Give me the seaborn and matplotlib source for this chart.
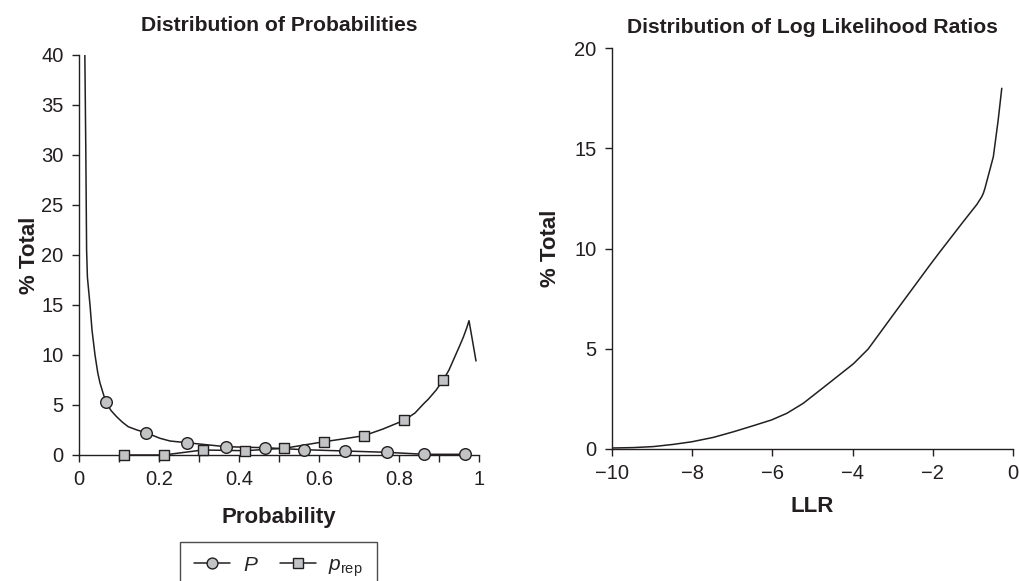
import matplotlib
matplotlib.use("Agg")
import matplotlib.pyplot as plt
from matplotlib.lines import Line2D
from matplotlib.ticker import MultipleLocator
import seaborn as sns

# ---------------- data ----------------
# Left panel: P curve (smooth line) and P markers
p_curve_x = [0.0145, 0.017, 0.019, 0.021, 0.0275, 0.0325, 0.04, 0.047, 0.0525, 0.067,
             0.08, 0.094, 0.108, 0.123, 0.145, 0.1675, 0.2025, 0.2275, 0.269,
             0.3675, 0.465, 0.5625, 0.665, 0.769, 0.863, 0.965]
p_curve_y = [40.5, 30.5, 20.5, 17.8, 15.0, 12.5, 10.0, 8.2, 7.2, 5.3,
             4.45, 3.83, 3.3, 2.83, 2.5, 2.23, 1.67, 1.4, 1.23,
             0.83, 0.73, 0.53, 0.40, 0.27, 0.07, 0.07]
p_mark_x = [0.067, 0.1675, 0.269, 0.3675, 0.465, 0.5625, 0.665, 0.769, 0.863, 0.965]
p_mark_y = [5.3, 2.23, 1.23, 0.83, 0.73, 0.53, 0.40, 0.27, 0.07, 0.07]

# Left panel: p_rep curve and markers
prep_curve_x = [0.113, 0.212, 0.309, 0.415, 0.513, 0.613, 0.659, 0.7125, 0.76, 0.813,
                0.84, 0.861, 0.873, 0.893, 0.911, 0.925, 0.936, 0.9525, 0.961, 0.969,
                0.975, 0.982, 0.9925]
prep_curve_y = [0.0, 0.0, 0.5, 0.43, 0.67, 1.33, 1.6, 1.93, 2.6, 3.47,
                4.2, 5.1, 5.57, 6.5, 7.53, 8.5, 9.5, 11.0, 11.8, 12.67,
                13.43, 11.83, 9.4]
prep_mark_x = [0.113, 0.212, 0.309, 0.415, 0.513, 0.613, 0.7125, 0.813, 0.911]
prep_mark_y = [0.0, 0.0, 0.5, 0.43, 0.67, 1.33, 1.93, 3.47, 7.53]

# Right panel: LLR distribution
llr_x = [-10.0, -9.47, -8.97, -8.47, -8.01, -7.47, -6.97, -6.48, -6.02, -5.64,
         -5.23, -4.65, -3.98, -3.61, -2.9, -2.07, -1.82, -1.24, -0.9, -0.78,
         -0.74, -0.70, -0.66, -0.49, -0.37, -0.28]
llr_y = [0.05, 0.07, 0.12, 0.23, 0.36, 0.58, 0.86, 1.16, 1.45, 1.78,
         2.28, 3.19, 4.25, 4.99, 6.93, 9.18, 9.84, 11.34, 12.2, 12.58,
         12.75, 13.0, 13.3, 14.58, 16.4, 17.99]

left_xticks = [0, 0.2, 0.4, 0.6, 0.8, 1.0]
left_xticklabels = ["0", "0.2", "0.4", "0.6", "0.8", "1"]
left_yticks = [0, 5, 10, 15, 20, 25, 30, 35, 40]
right_xticks = [-10, -8, -6, -4, -2, 0]
right_yticks = [0, 5, 10, 15, 20]

# ---------------- style ----------------
sns.set_theme(style="ticks")
plt.rcParams["font.family"] = ["Liberation Sans", "DejaVu Sans"]
plt.rcParams["mathtext.fontset"] = "custom"
plt.rcParams["mathtext.rm"] = "Liberation Sans"
plt.rcParams["mathtext.it"] = "Liberation Sans:italic"
plt.rcParams["axes.unicode_minus"] = True

INK = "#231f20"
GREY = "#c2c3c5"
FS_TICK = 14.5
FS_LAB = 16
FS_TITLE = 15.2
LW = 1.1

fig = plt.figure(figsize=(10.19, 5.81), dpi=100)
axL = fig.add_axes([79 / 1019, 1 - 455 / 581, 400 / 1019, 400 / 581])
axR = fig.add_axes([612 / 1019, 1 - 449 / 581, 401 / 1019, 401 / 581])

# ---------- left panel ----------
sns.lineplot(x=p_curve_x, y=p_curve_y, ax=axL, color=INK, lw=LW,
             sort=False, estimator=None)
sns.lineplot(x=prep_curve_x, y=prep_curve_y, ax=axL, color=INK, lw=LW,
             sort=False, estimator=None)
sns.scatterplot(x=p_mark_x, y=p_mark_y, ax=axL, marker="o", s=70,
                facecolor=GREY, edgecolor=INK, linewidth=1.0, zorder=3)
sns.scatterplot(x=prep_mark_x, y=prep_mark_y, ax=axL, marker="s", s=62,
                facecolor=GREY, edgecolor=INK, linewidth=1.0, zorder=3)

axL.set_xlim(0, 1)
axL.set_ylim(0, 40)
axL.set_xticks(left_xticks)
axL.set_xticklabels(left_xticklabels)
axL.xaxis.set_minor_locator(MultipleLocator(0.1))
axL.set_yticks(left_yticks)
axL.set_title("Distribution of Probabilities", fontsize=FS_TITLE,
              fontweight="bold", color=INK, pad=17)
axL.set_xlabel("Probability", fontsize=FS_LAB, fontweight="bold",
               color=INK, labelpad=13)
axL.set_ylabel("% Total", fontsize=FS_LAB, fontweight="bold",
               color=INK, labelpad=1)

# ---------- right panel ----------
sns.lineplot(x=llr_x, y=llr_y, ax=axR, color=INK, lw=LW,
             sort=False, estimator=None)
axR.set_xlim(-10, 0)
axR.set_ylim(0, 20)
axR.set_xticks(right_xticks)
axR.set_yticks(right_yticks)
axR.set_title("Distribution of Log Likelihood Ratios", fontsize=FS_TITLE,
              fontweight="bold", color=INK, pad=11)
axR.set_xlabel("LLR", fontsize=FS_LAB, fontweight="bold",
               color=INK, labelpad=9)
axR.set_ylabel("% Total", fontsize=FS_LAB, fontweight="bold",
               color=INK, labelpad=10)

for ax in (axL, axR):
    sns.despine(ax=ax)
    for side in ("left", "bottom"):
        ax.spines[side].set_color(INK)
        ax.spines[side].set_linewidth(1.0)
    ax.tick_params(axis="both", which="major", length=5, width=1.0,
                   color=INK, labelcolor=INK, labelsize=FS_TICK, pad=6)
    ax.tick_params(axis="x", which="minor", length=5, width=1.0, color=INK)
    for c in ax.collections:
        c.set_clip_on(False)

# ---------- legend ----------
handles = [
    Line2D([], [], color=INK, lw=LW, marker="o", markersize=7.8,
           markerfacecolor=GREY, markeredgecolor=INK, markeredgewidth=1.0),
    Line2D([], [], color=INK, lw=LW, marker="s", markersize=7.0,
           markerfacecolor=GREY, markeredgecolor=INK, markeredgewidth=1.0),
]
labels = [r"$\mathit{P}$", r"$\mathit{p}_{\mathrm{rep}}$"]
leg = fig.legend(handles, labels, loc="upper center",
                 bbox_to_anchor=(278.5 / 1019, 1 - 542 / 581),
                 borderaxespad=0.0,
                 ncol=2, frameon=True, fancybox=False, fontsize=15,
                 handlelength=1.75, columnspacing=1.0, handletextpad=0.6,
                 borderpad=0.65, edgecolor=INK)
leg.get_frame().set_linewidth(1.0)

fig.savefig("out.png", dpi=100)
